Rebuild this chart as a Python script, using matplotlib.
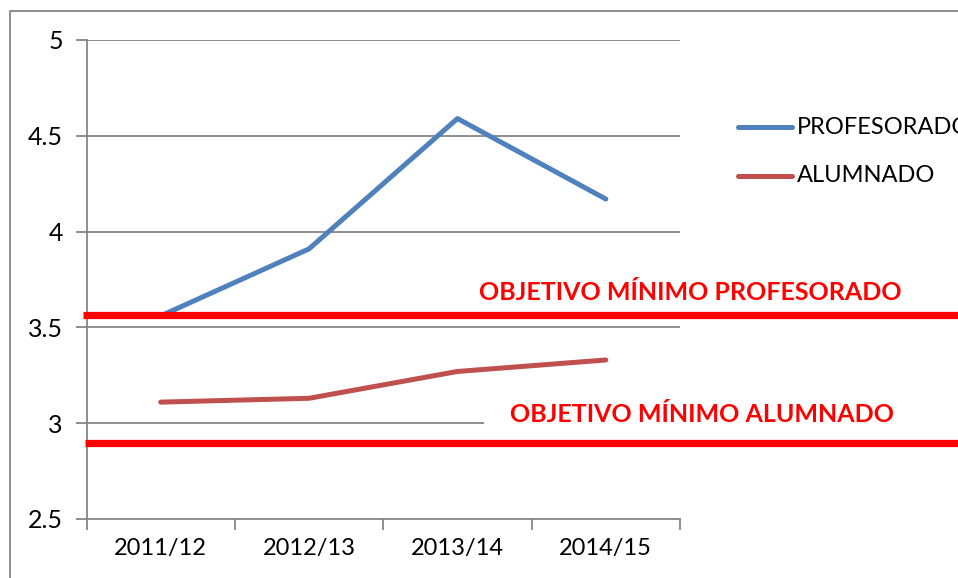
import matplotlib
matplotlib.use("Agg")
import matplotlib.pyplot as plt
from matplotlib.lines import Line2D
from matplotlib.transforms import blended_transform_factory

categories = ["2011/12", "2012/13", "2013/14", "2014/15"]
profesorado = [3.56, 3.91, 4.59, 4.17]
alumnado = [3.11, 3.13, 3.27, 3.33]
series_names = ["PROFESORADO", "ALUMNADO"]
obj_prof = 3.565
obj_alum = 2.895
obj_labels = ["OBJETIVO MÍNIMO PROFESORADO", "OBJETIVO MÍNIMO ALUMNADO"]
yticks = [2.5, 3, 3.5, 4, 4.5, 5]

W, H = 958, 578
fig = plt.figure(figsize=(W / 100, H / 100), dpi=100)
plt.rcParams['font.family'] = ['Lato', 'DejaVu Sans']

def fx(px):
    return px / W

def fy(py):
    return 1 - py / H

gray = "#868686"
blue = "#4F81BD"
red = "#C0504D"

ax = fig.add_axes([fx(86.5), fy(519), fx(680) - fx(86.5), fy(40) - fy(519)])
ax.set_xlim(0, len(categories))
ax.set_ylim(2.5, 5)

x = [i + 0.5 for i in range(len(categories))]
ax.plot(x, profesorado, color=blue, lw=3.6, solid_capstyle='round', solid_joinstyle='round', zorder=3)
ax.plot(x, alumnado, color=red, lw=3.6, solid_capstyle='round', solid_joinstyle='round', zorder=3)

for yv in yticks[1:]:
    ax.axhline(yv, color=gray, lw=1.3, zorder=1)

ax.set_yticks(yticks)
ax.set_yticklabels([f"{v:g}" for v in yticks], fontsize=18)
ax.set_xticks(range(len(categories) + 1))
ax.set_xticklabels([])
ax.set_xticks(x, minor=True)
ax.set_xticklabels(categories, minor=True, fontsize=17)
ax.tick_params(axis='x', which='minor', length=0, pad=14)
ax.tick_params(axis='x', which='major', length=8, color=gray, width=1.3, direction='out')
ax.tick_params(axis='y', length=8, color=gray, width=1.3, pad=9)
for s in ['top', 'right']:
    ax.spines[s].set_visible(False)
for s in ['left', 'bottom']:
    ax.spines[s].set_color(gray)
    ax.spines[s].set_linewidth(1.3)

# objective lines across figure
tr = blended_transform_factory(fig.transFigure, ax.transData)
ax.plot([fx(83), 1.0], [obj_prof, obj_prof], color="#FF0000", lw=5.2, transform=tr, clip_on=False, zorder=4, solid_capstyle='butt')
ax.plot([fx(85), 1.0], [obj_alum, obj_alum], color="#FF0000", lw=5.2, transform=tr, clip_on=False, zorder=4, solid_capstyle='butt')

ax.text(fx(690), fy(293), obj_labels[0], color="#FF0000", fontsize=18, fontweight='bold',
        ha='center', va='center', transform=fig.transFigure, clip_on=False,
        bbox=dict(facecolor='white', edgecolor='none', pad=2), zorder=3.5)
ax.text(fx(702), fy(414), obj_labels[1], color="#FF0000", fontsize=18, fontweight='bold',
        ha='center', va='center', transform=fig.transFigure, clip_on=False,
        bbox=dict(facecolor='white', edgecolor='none', pad=19), zorder=3.5)

# legend
for i, (name, col) in enumerate(zip(series_names, [blue, red])):
    yy = 127 + i * 49
    fig.add_artist(Line2D([fx(738), fx(792)], [fy(yy), fy(yy)], color=col, lw=3.6, solid_capstyle='round'))
    fig.text(fx(797), fy(yy), name, fontsize=17, va='center', ha='left', color='black')

# outer border
fig.add_artist(Line2D([fx(9.5), fx(9.5), 1.0], [0, fy(10.5), fy(10.5)], color=gray, lw=1.3))

fig.savefig("out.png", dpi=100)
